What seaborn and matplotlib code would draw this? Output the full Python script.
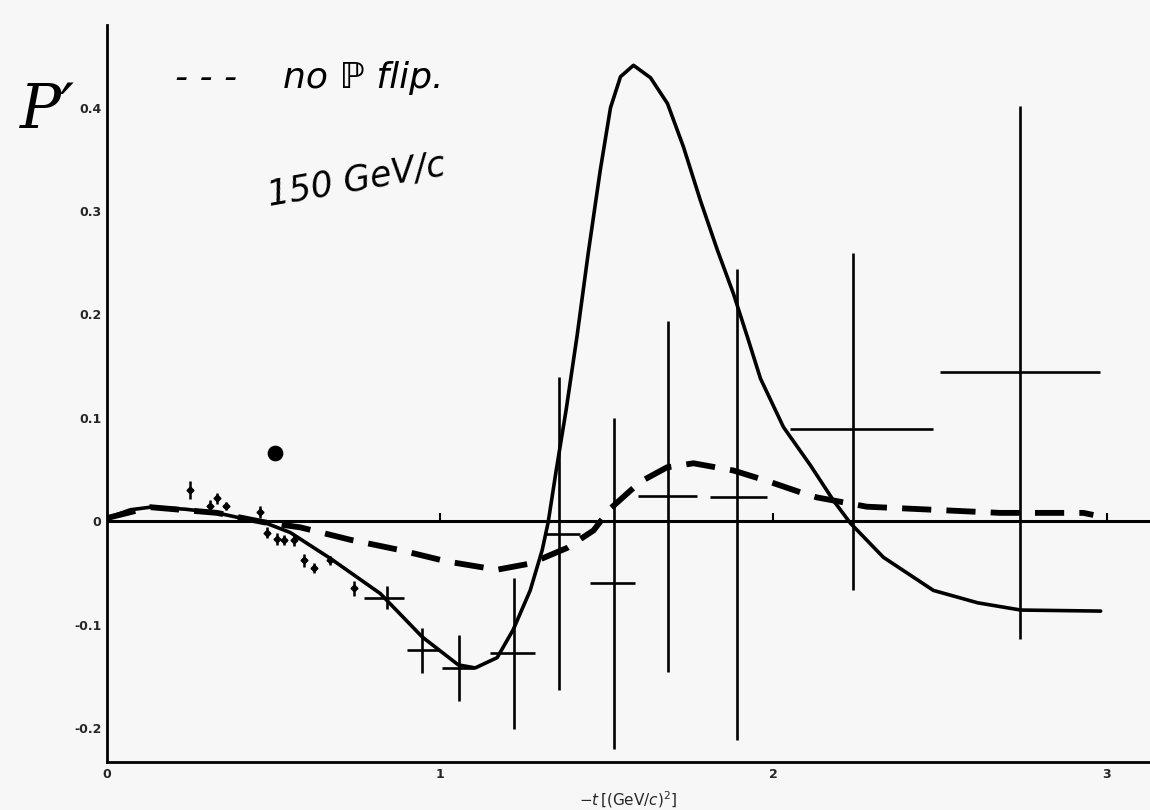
import numpy as np
import pandas as pd
import matplotlib
matplotlib.use("Agg")
import matplotlib.pyplot as plt
import seaborn as sns

# ---- data ----
solid_t = [0.0, 0.07, 0.13, 0.234, 0.33, 0.43, 0.47, 0.55, 0.67, 0.82, 0.946, 1.054, 1.105, 1.171,
           1.219, 1.270, 1.306, 1.324, 1.348, 1.378, 1.411, 1.444, 1.480, 1.511, 1.541, 1.580,
           1.631, 1.682, 1.730, 1.781, 1.832, 1.880, 1.922, 1.961, 2.030, 2.111, 2.180, 2.231,
           2.330, 2.480, 2.613, 2.742, 2.982]
solid_y = [0.003, 0.011, 0.0135, 0.0116, 0.008, 0.001, -0.001, -0.011, -0.036, -0.070, -0.112,
           -0.139, -0.142, -0.132, -0.105, -0.067, -0.028, -0.001, 0.049, 0.108, 0.180, 0.259,
           0.339, 0.400, 0.430, 0.441, 0.429, 0.404, 0.362, 0.310, 0.262, 0.220, 0.178, 0.138,
           0.091, 0.054, 0.020, -0.002, -0.035, -0.067, -0.079, -0.086, -0.087]

dash_t = [0.0, 0.13, 0.33, 0.47, 0.58, 0.73, 0.88, 1.02, 1.17, 1.27, 1.38, 1.46, 1.51, 1.60,
          1.68, 1.76, 1.88, 1.98, 2.08, 2.13, 2.28, 2.48, 2.68, 2.93, 2.96]
dash_y = [0.003, 0.0135, 0.008, -0.001, -0.006, -0.018, -0.028, -0.039, -0.047, -0.041, -0.026,
          -0.009, 0.012, 0.038, 0.052, 0.056, 0.049, 0.039, 0.028, 0.023, 0.014, 0.011, 0.008,
          0.008, 0.006]

# small-error data points
pt_t = [0.25, 0.31, 0.33, 0.357, 0.46, 0.48, 0.51, 0.53, 0.56, 0.59, 0.62, 0.67, 0.74]
pt_y = [0.030, 0.015, 0.022, 0.015, 0.009, -0.011, -0.017, -0.018, -0.018, -0.038, -0.045,
        -0.038, -0.065]
pt_err = [0.009, 0.005, 0.005, 0.004, 0.006, 0.005, 0.006, 0.005, 0.006, 0.006, 0.005, 0.004,
          0.007]

# binned data points (cross-shaped error bars)
bin_t = [0.84, 0.946, 1.055, 1.22, 1.355, 1.52, 1.685, 1.89, 2.24, 2.74]
bin_y = [-0.074, -0.125, -0.142, -0.128, -0.012, -0.060, 0.024, 0.023, 0.089, 0.144]
bin_ylo = [0.011, 0.022, 0.032, 0.073, 0.151, 0.160, 0.170, 0.235, 0.156, 0.258]
bin_yhi = [0.011, 0.022, 0.032, 0.073, 0.151, 0.160, 0.170, 0.221, 0.170, 0.258]
bin_xlo = [0.07, 0.046, 0.05, 0.07, 0.045, 0.07, 0.09, 0.08, 0.19, 0.24]
bin_xhi = [0.05, 0.054, 0.045, 0.065, 0.065, 0.065, 0.085, 0.09, 0.24, 0.24]

blob_t = [0.505]
blob_y = [0.066]

ytick_vals = [-0.2, -0.1, 0.0, 0.1, 0.2, 0.3, 0.4]
ytick_labels = ["-0.2", "-0.1", "0", "0.1", "0.2", "0.3", "0.4"]
xtick_vals = [0, 1, 2, 3]
xtick_labels = ["0", "1", "2", "3"]

# ---- figure ----
sns.set_style("white")
plt.rcParams['font.family'] = ['DejaVu Sans']
bg = "#f7f7f7"
fig = plt.figure(figsize=(11.5, 8.1), dpi=100, facecolor=bg)
ax = fig.add_axes([107/1150, 1 - 762/810, 1 - 107/1150, (762 - 25)/810])
ax.set_facecolor(bg)

solid_df = pd.DataFrame({"t": solid_t, "P": solid_y})
dash_df = pd.DataFrame({"t": dash_t, "P": dash_y})

ax.axhline(0, color="black", lw=2.2, zorder=1)
ax.plot([1, 2, 3], [0, 0, 0], ls="none", marker=2, ms=6, mew=1.5, color="black")

sns.lineplot(data=solid_df, x="t", y="P", ax=ax, color="black", lw=2.6, sort=False,
             estimator=None)
sns.lineplot(data=dash_df, x="t", y="P", ax=ax, color="black", lw=4.2, sort=False,
             estimator=None, dashes=False, linestyle=(0, (5.0, 2.6)))

ax.errorbar(pt_t, pt_y, yerr=pt_err, fmt="D", ms=3.5, color="black", elinewidth=1.8,
            capsize=0)
ax.errorbar(bin_t, bin_y, yerr=[bin_ylo, bin_yhi], xerr=[bin_xlo, bin_xhi], fmt="none",
            ecolor="black", elinewidth=1.9, capsize=0)
sns.scatterplot(x=blob_t, y=blob_y, ax=ax, s=110, color="black", edgecolor="black")

ax.set_xlim(0, 3.13)
ax.set_ylim(-0.233, 0.48)
ax.set_yticks(ytick_vals)
ax.set_yticklabels(ytick_labels, fontsize=9, fontweight="bold")
ax.set_xticks(xtick_vals)
ax.set_xticklabels(xtick_labels, fontsize=9, fontweight="bold")
ax.tick_params(axis="both", direction="in", length=6, width=1.5, pad=4)
for s in ["top", "right"]:
    ax.spines[s].set_visible(False)
for s in ["left", "bottom"]:
    ax.spines[s].set_linewidth(2.0)
    ax.spines[s].set_color("black")
ax.set_xlabel("$-t\\,[(\\mathrm{GeV}/c)^2]$", fontsize=11, fontweight="bold", labelpad=6)
ax.set_ylabel("")

# handwritten annotations
fig.text(20/1150, 1 - 128/810, "P\u2032", fontsize=44, style="italic", family="DejaVu Serif",
         color="black")
fig.text(175/1150, 1 - 88/810, "- - -    no \u2119 flip.", fontsize=26, style="italic",
         color="black")
fig.text(265/1150, 1 - 205/810, "150 GeV/c", fontsize=25, style="italic", color="black",
         rotation=10)

fig.savefig("out.png", dpi=100, facecolor=bg)
